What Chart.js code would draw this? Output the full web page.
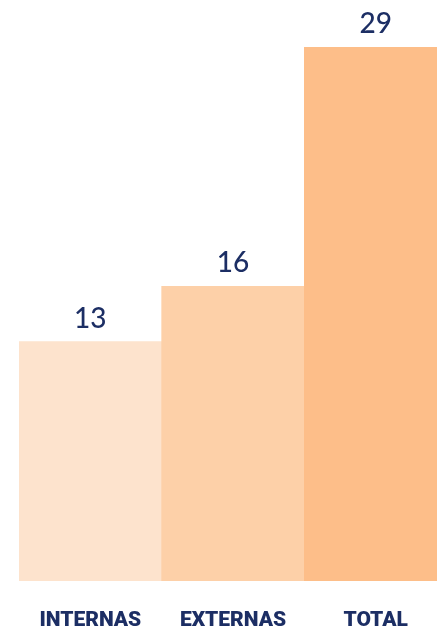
<!DOCTYPE html>
<html>
<head>
<meta charset="utf-8">
<script src="https://cdn.jsdelivr.net/npm/chart.js@4/dist/chart.umd.min.js"></script>
<style>
  html, body { margin: 0; padding: 0; background: #ffffff; overflow: hidden; }
  #wrap { width: 437px; height: 636px; overflow: hidden; position: relative; }
  canvas { position: absolute; left: 0; top: 0; }
</style>
</head>
<body>
<div id="wrap"><canvas id="chart" width="447" height="666"></canvas></div>
<script>
// Categories, values and bar colours
const categories = ['INTERNAS', 'EXTERNAS', 'TOTAL'];
const values = [13, 16, 29];
const barColors = ['#FDE3CD', '#FDD0A8', '#FDBE89'];
const textColor = '#1C2E64';

// Draws each bar's value just above its top edge
const valueLabels = {
  id: 'valueLabels',
  afterDatasetsDraw(chart) {
    const ctx = chart.ctx;
    const meta = chart.getDatasetMeta(0);
    ctx.save();
    ctx.font = '500 28px Lato, "Noto Sans", sans-serif';
    ctx.fillStyle = textColor;
    ctx.textAlign = 'center';
    ctx.textBaseline = 'alphabetic';
    meta.data.forEach((bar, i) => {
      ctx.fillText(String(values[i]), bar.x, bar.y - 14);
    });
    ctx.restore();
  }
};

new Chart(document.getElementById('chart'), {
  type: 'bar',
  data: {
    labels: categories,
    datasets: [{
      data: values,
      backgroundColor: barColors,
      borderWidth: 0,
      barPercentage: 1,
      categoryPercentage: 1
    }]
  },
  options: {
    responsive: false,
    animation: false,
    layout: { padding: { top: 47, left: 19, right: 0, bottom: 5 } },
    plugins: { legend: { display: false }, tooltip: { enabled: false } },
    scales: {
      y: { display: false, min: 0, max: 29 },
      x: {
        grid: { display: false, drawTicks: false },
        border: { display: false },
        ticks: {
          color: textColor,
          padding: 27.4,
          font: { family: 'Roboto, "Noto Sans", sans-serif', size: 21, weight: 900 }
        }
      }
    }
  },
  plugins: [valueLabels]
});
</script>
</body>
</html>
